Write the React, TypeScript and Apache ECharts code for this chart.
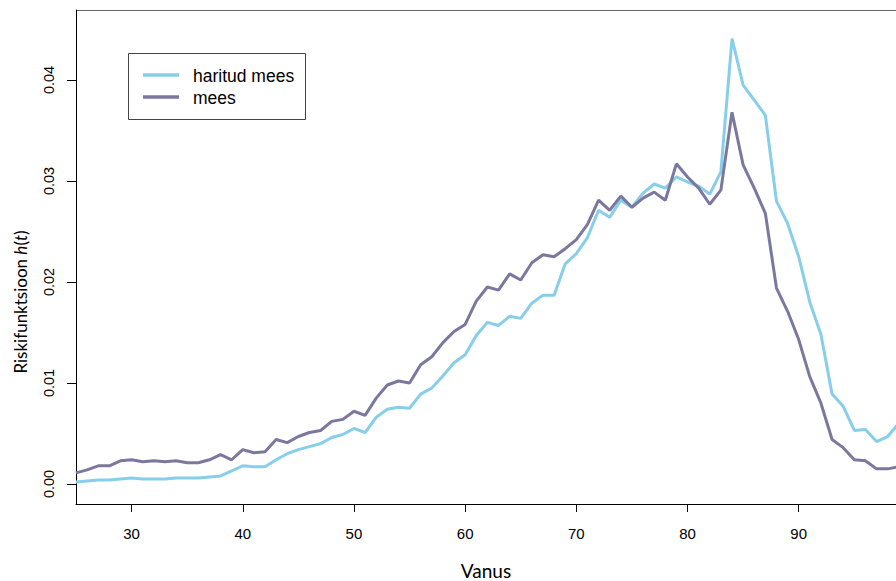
import React, { useEffect, useRef } from "react";
import * as echarts from "echarts";

const ages = [
  25, 26, 27, 28, 29, 30, 31, 32, 33, 34, 35, 36, 37, 38, 39, 40, 41, 42, 43, 44,
  45, 46, 47, 48, 49, 50, 51, 52, 53, 54, 55, 56, 57, 58, 59, 60, 61, 62, 63, 64,
  65, 66, 67, 68, 69, 70, 71, 72, 73, 74, 75, 76, 77, 78, 79, 80, 81, 82, 83, 84,
  85, 86, 87, 88, 89, 90, 91, 92, 93, 94, 95, 96, 97, 98, 99,
];

const haritudMees = [
  0.0002, 0.0003, 0.0004, 0.0004, 0.0005, 0.0006, 0.0005, 0.0005, 0.0005, 0.0006,
  0.0006, 0.0006, 0.0007, 0.0008, 0.0013, 0.0018, 0.0017, 0.0017, 0.0024, 0.003,
  0.0034, 0.0037, 0.004, 0.0046, 0.0049, 0.0055, 0.0051, 0.0066, 0.0074, 0.0076,
  0.0075, 0.0089, 0.0095, 0.0107, 0.012, 0.0128, 0.0147, 0.016, 0.0157, 0.0166,
  0.0164, 0.0179, 0.0187, 0.0187, 0.0218, 0.0228, 0.0244, 0.0271, 0.0264, 0.0281,
  0.0274, 0.0288, 0.0297, 0.0293, 0.0304, 0.0299, 0.0295, 0.0287, 0.0309, 0.0441,
  0.0395, 0.038, 0.0365, 0.028, 0.0258, 0.0225, 0.018, 0.0148, 0.0089, 0.0077,
  0.0053, 0.0054, 0.0042, 0.0047, 0.006,
];

const mees = [
  0.0011, 0.0014, 0.0018, 0.0018, 0.0023, 0.0024, 0.0022, 0.0023, 0.0022, 0.0023,
  0.0021, 0.0021, 0.0024, 0.0029, 0.0024, 0.0034, 0.0031, 0.0032, 0.0044, 0.0041,
  0.0047, 0.0051, 0.0053, 0.0062, 0.0064, 0.0072, 0.0068, 0.0085, 0.0098, 0.0102,
  0.01, 0.0118, 0.0126, 0.014, 0.0151, 0.0158, 0.0181, 0.0195, 0.0192, 0.0208,
  0.0202, 0.0219, 0.0227, 0.0225, 0.0233, 0.0242, 0.0257, 0.0281, 0.0271, 0.0285,
  0.0274, 0.0283, 0.0289, 0.0281, 0.0317, 0.0304, 0.0293, 0.0277, 0.0291, 0.0368,
  0.0316, 0.0293, 0.0268, 0.0194, 0.0171, 0.0143, 0.0106, 0.008, 0.0044, 0.0036,
  0.0024, 0.0023, 0.0015, 0.0015, 0.0017,
];

const xTicks = [30, 40, 50, 60, 70, 80, 90];
const yTicks = [0, 0.01, 0.02, 0.03, 0.04];
const seriesNames = ["haritud mees", "mees"];
const seriesColors = ["#87ceeb", "#7a789e"];
const xTitle = "Vanus";
const yTitle = "Riskifunktsioon {i|h}({i|t})";

export default function App() {
  const ref = useRef<HTMLDivElement>(null);

  useEffect(() => {
    const el = ref.current;
    if (!el) return;
    const chart = echarts.init(el, null, { renderer: "svg" });
    const seriesData = [haritudMees, mees];
    chart.setOption({
      animation: false,
      backgroundColor: "#ffffff",
      grid: {
        left: 76,
        top: 10,
        right: 0,
        bottom: 77,
        containLabel: false,
        outerBoundsMode: "none",
      },
      xAxis: {
        type: "value",
        min: 25,
        max: 98.75,
        name: xTitle,
        nameLocation: "middle",
        nameGap: 56,
        nameTextStyle: { fontFamily: "Lato", fontSize: 19, lineHeight: 20, color: "#000" },
        axisLine: { show: true, onZero: false, lineStyle: { color: "#000", width: 1 } },
        axisTick: { show: true, customValues: xTicks, length: 8, lineStyle: { color: "#000" } },
        axisLabel: {
          customValues: xTicks,
          fontFamily: "Liberation Sans",
          fontSize: 15,
          color: "#000",
          margin: 22,
        },
        splitLine: { show: false },
      },
      yAxis: {
        type: "value",
        min: -0.00198,
        max: 0.04693,
        axisLine: { show: true, onZero: false, lineStyle: { color: "#000", width: 1 } },
        axisTick: { show: true, customValues: yTicks, length: 9, lineStyle: { color: "#000" } },
        axisLabel: {
          customValues: yTicks,
          rotate: 90,
          formatter: (v: number) => v.toFixed(2),
          fontFamily: "Liberation Sans",
          fontSize: 14.5,
          color: "#000",
          margin: 20,
        },
        splitLine: { show: false },
      },
      series: seriesNames.map((name, k) => ({
        name,
        type: "line",
        data: ages.map((a, i) => [a, seriesData[k][i]]),
        showSymbol: false,
        symbol: "none",
        lineStyle: { color: seriesColors[k], width: 3 },
        itemStyle: { color: seriesColors[k] },
        clip: true,
      })),
      graphic: [
        {
          type: "line",
          shape: { x1: 76, y1: 10.5, x2: 896, y2: 10.5 },
          style: { stroke: "#666", lineWidth: 1 },
          silent: true,
        },
        {
          type: "rect",
          shape: { x: 128.5, y: 53.5, width: 177, height: 66 },
          style: { fill: "#fff", stroke: "#444", lineWidth: 1 },
          z: 10,
        },
        ...seriesNames.flatMap((name, k) => [
          {
            type: "line",
            shape: { x1: 143, y1: 75 + k * 22, x2: 179, y2: 75 + k * 22 },
            style: { stroke: seriesColors[k], lineWidth: 3.5 },
            z: 11,
          },
          {
            type: "text",
            x: 193,
            y: 76 + k * 22,
            style: {
              text: name,
              fontFamily: "Liberation Sans",
              fontSize: 17.5,
              fill: "#000",
              align: "left",
              verticalAlign: "middle",
            },
            z: 11,
          },
        ]),
        {
          type: "text",
          x: 20,
          y: 302,
          rotation: Math.PI / 2,
          style: {
            text: yTitle,
            fontFamily: "Lato",
            fontSize: 17,
            fill: "#000",
            align: "center",
            verticalAlign: "middle",
            rich: {
              i: { fontFamily: "Lato", fontSize: 17, fontStyle: "italic", fill: "#000" },
            },
          },
        },
      ],
    });
    return () => {
      chart.dispose();
    };
  }, []);

  return (
    <div
      ref={ref}
      style={{ position: "absolute", left: 0, top: 0, width: 896, height: 581, background: "#fff" }}
    />
  );
}
